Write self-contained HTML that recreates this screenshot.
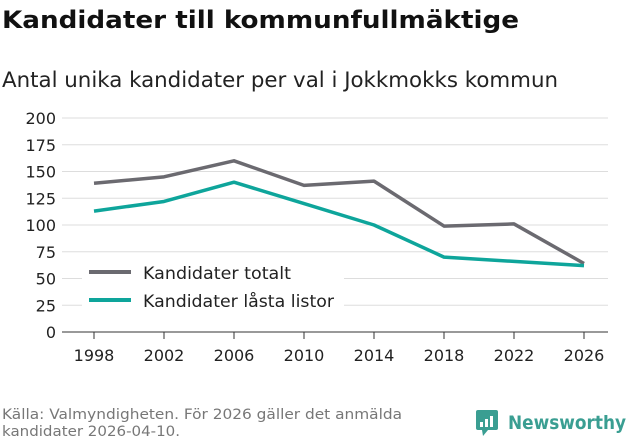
<!DOCTYPE html>
<html><head><meta charset="utf-8"><style>
body{margin:0;width:631px;height:439px;background:#fff;font-family:"DejaVu Sans","Liberation Sans",sans-serif;overflow:hidden;position:relative}
svg{position:absolute;left:0;top:0}
</style></head><body>
<svg width="631" height="439">
<text x="2" y="28" font-size="24" font-weight="bold" fill="#111" textLength="517" lengthAdjust="spacingAndGlyphs">Kandidater till kommunfullmäktige</text>
<text x="2" y="87" font-size="21" fill="#222" textLength="556" lengthAdjust="spacingAndGlyphs">Antal unika kandidater per val i Jokkmokks kommun</text>
<g id="grid"></g><g id="series"></g>
<g>
<rect x="82" y="262" width="262" height="56" fill="#fff"/>
<line x1="89" y1="272" x2="131" y2="272" stroke="#6b6a70" stroke-width="4"/>
<text x="143" y="279" font-size="17" fill="#222" textLength="148" lengthAdjust="spacingAndGlyphs">Kandidater totalt</text>
<line x1="89" y1="300" x2="131" y2="300" stroke="#0ea59b" stroke-width="4"/>
<text x="143" y="307" font-size="17" fill="#222" textLength="191" lengthAdjust="spacingAndGlyphs">Kandidater låsta listor</text>
</g>
<text x="2" y="419" font-size="14.5" fill="#777" textLength="400" lengthAdjust="spacingAndGlyphs">Källa: Valmyndigheten. För 2026 gäller det anmälda</text>
<text x="2" y="436" font-size="14.5" fill="#777" textLength="178" lengthAdjust="spacingAndGlyphs">kandidater 2026-04-10.</text>
<g>
<rect x="476" y="410" width="22" height="20" rx="2" fill="#3a9e92"/>
<polygon points="482,430 488,430 483,436" fill="#3a9e92"/>
<rect x="480" y="422" width="3" height="5" fill="#fff"/><rect x="485" y="419" width="3" height="8" fill="#fff"/><rect x="490" y="416" width="3" height="11" fill="#fff"/>
<text x="508" y="429" font-size="19" font-weight="bold" fill="#3a9e92" textLength="118" lengthAdjust="spacingAndGlyphs">Newsworthy</text>
</g>
</svg>
<script>
const years=["1998","2002","2006","2010","2014","2018","2022","2026"];
const totals=[139,145,160,137,141,99,101,64];
const locked=[113,122,140,120,100,70,66,62];
const yTicks=[0,25,50,75,100,125,150,175,200];
const NS="http://www.w3.org/2000/svg";
const x=i=>94+i*70, y=v=>332-v*1.07;
const g=document.getElementById('grid'), s=document.getElementById('series');
yTicks.forEach(t=>{
 const l=document.createElementNS(NS,'line');
 l.setAttribute('x1',62);l.setAttribute('x2',608);l.setAttribute('y1',y(t));l.setAttribute('y2',y(t));
 l.setAttribute('stroke',t==0?'#333':'#ddd');l.setAttribute('stroke-width',1);
 
 
 g.appendChild(l);
 const tx=document.createElementNS(NS,'text');
 tx.setAttribute('x',56);tx.setAttribute('y',y(t)+6);tx.setAttribute('text-anchor','end');tx.setAttribute('font-size',16);tx.setAttribute('fill','#222');
 tx.textContent=t;
 
 
 g.appendChild(tx);
});
years.forEach((yr,i)=>{
 const l=document.createElementNS(NS,'line');
 l.setAttribute('x1',x(i));l.setAttribute('x2',x(i));l.setAttribute('y1',332);l.setAttribute('y2',339);l.setAttribute('stroke','#333');
 
 
 g.appendChild(l);
 const tx=document.createElementNS(NS,'text');
 tx.setAttribute('x',x(i));tx.setAttribute('y',361);tx.setAttribute('text-anchor','middle');tx.setAttribute('font-size',16);tx.setAttribute('fill','#222');
 tx.textContent=yr;
 
 
 g.appendChild(tx);
});
function line(vals,color,name){
 const p=document.createElementNS(NS,'polyline');
 p.setAttribute('points',vals.map((v,i)=>x(i)+','+y(v)).join(' '));
 p.setAttribute('fill','none');p.setAttribute('stroke',color);p.setAttribute('stroke-width',3.5);p.setAttribute('stroke-linejoin','round');
 
 
 s.appendChild(p);
}
line(totals,'#6b6a70','line-total');
line(locked,'#0ea59b','line-locked');
</script>
</body></html>
